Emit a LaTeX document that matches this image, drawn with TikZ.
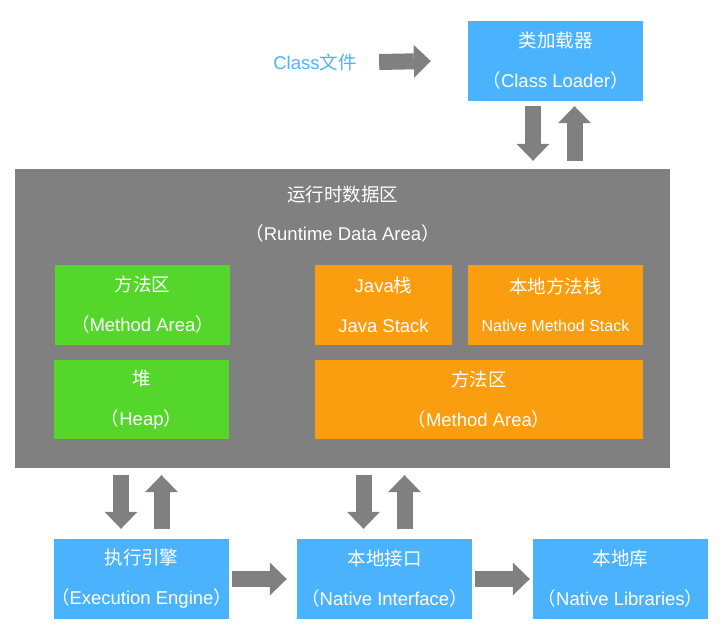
\documentclass[tikz,border=0pt]{standalone}
\usepackage{fontspec}
\setmainfont{Liberation Sans}
\newfontfamily\cjk{Noto Sans CJK SC}
\usetikzlibrary{positioning, arrows.meta}

\definecolor{loaderblue}{HTML}{4BB3FE}
\definecolor{areagreen}{HTML}{55D62B}
\definecolor{stackorange}{HTML}{FA9D0E}
\definecolor{areagray}{HTML}{808080}

\newcommand{\zh}[1]{{\cjk #1}}
\newcommand{\pn}[1]{\zh{\kern-.3em（}#1\zh{）\kern-.3em}}

\begin{document}
\begin{tikzpicture}[
    x=1pt, y=-1pt,
    % Styles
    box/.style={minimum width=175pt, minimum height=80pt, inner sep=0pt, align=center, text=white, font=\fontsize{18.5}{22}\selectfont},
    bluebox/.style={box, fill=loaderblue},
    greenbox/.style={box, fill=areagreen},
    orangebox/.style={box, fill=stackorange},
    fatarrow/.style={draw=areagray, line width=16pt, -{Triangle[length=17pt, width=33pt, line width=0pt]}},
]
\useasboundingbox (0,0) rectangle (726,631);

% Class file and loader
\node[text=loaderblue, font=\fontsize{18.5}{22}\selectfont] (classfile) at (315,62) {Class\zh{文件}};
\node[bluebox] (loader) at (555.5,61) {\zh{类加载器}\\[18pt]\pn{Class Loader}};
\draw[fatarrow] ([xshift=19pt]classfile.east) -- ([xshift=-37pt]loader.west);

% Runtime data area
\node[fill=areagray, minimum width=655pt, minimum height=299pt, inner sep=0pt] (rda) at (342.5,318.5) {};
\node[text=white, align=center, font=\fontsize{18.5}{22}\selectfont] (rdatitle) at ([yshift=-45.5pt]rda.north) {\zh{运行时数据区}\\[17pt]\pn{Runtime Data Area}};

\node[greenbox] (method) at (142.5,305) {\zh{方法区}\\[18pt]\pn{Method Area}};
\node[greenbox, minimum height=79pt] (heap) at (141.5,399.5) {\zh{堆}\\[18pt]\pn{Heap}};
\node[orangebox, minimum width=137pt] (javastack) at (383.5,305) {Java\zh{栈}\\[18pt]Java Stack};
\node[orangebox] (nativestack) at (555.5,305) {\zh{本地方法栈}\\[16pt]{\fontsize{16}{19}\selectfont Native Method Stack}};
\node[orangebox, minimum width=328pt, minimum height=79pt] (methodarea) at (479,399.5) {\zh{方法区}\\[18pt]\pn{Method Area}};

\draw[fatarrow] ([xshift=-22.5pt, yshift=-5pt]loader.south) -- ([xshift=-22.5pt, yshift=8pt]rda.north -| loader.south);
\draw[fatarrow] ([xshift=19pt, yshift=8pt]rda.north -| loader.south) -- ([xshift=19pt, yshift=-5pt]loader.south);

% Engine, native interface, libraries
\node[bluebox] (engine) at (141.5,579) {\zh{执行引擎}\\[18pt]\pn{Execution Engine}};
\node[bluebox] (nativeif) at (384.5,579) {\zh{本地接口}\\[18pt]\pn{Native Interface}};
\node[bluebox] (nativelib) at (620.5,579) {\zh{本地库}\\[18pt]\pn{Native Libraries}};

\draw[fatarrow] ([xshift=-20.5pt, yshift=-7pt]rda.south -| engine.north) -- ([xshift=-20.5pt, yshift=10pt]engine.north);
\draw[fatarrow] ([xshift=20pt, yshift=10pt]engine.north) -- ([xshift=20pt, yshift=-7pt]rda.south -| engine.north);
\draw[fatarrow] ([xshift=-21pt, yshift=-7pt]rda.south -| nativeif.north) -- ([xshift=-21pt, yshift=10pt]nativeif.north);
\draw[fatarrow] ([xshift=20pt, yshift=10pt]nativeif.north) -- ([xshift=20pt, yshift=-7pt]rda.south -| nativeif.north);

\draw[fatarrow] ([xshift=3pt]engine.east) -- ([xshift=-10pt]nativeif.west);
\draw[fatarrow] ([xshift=3pt]nativeif.east) -- ([xshift=-3pt]nativelib.west);

\end{tikzpicture}
\end{document}
